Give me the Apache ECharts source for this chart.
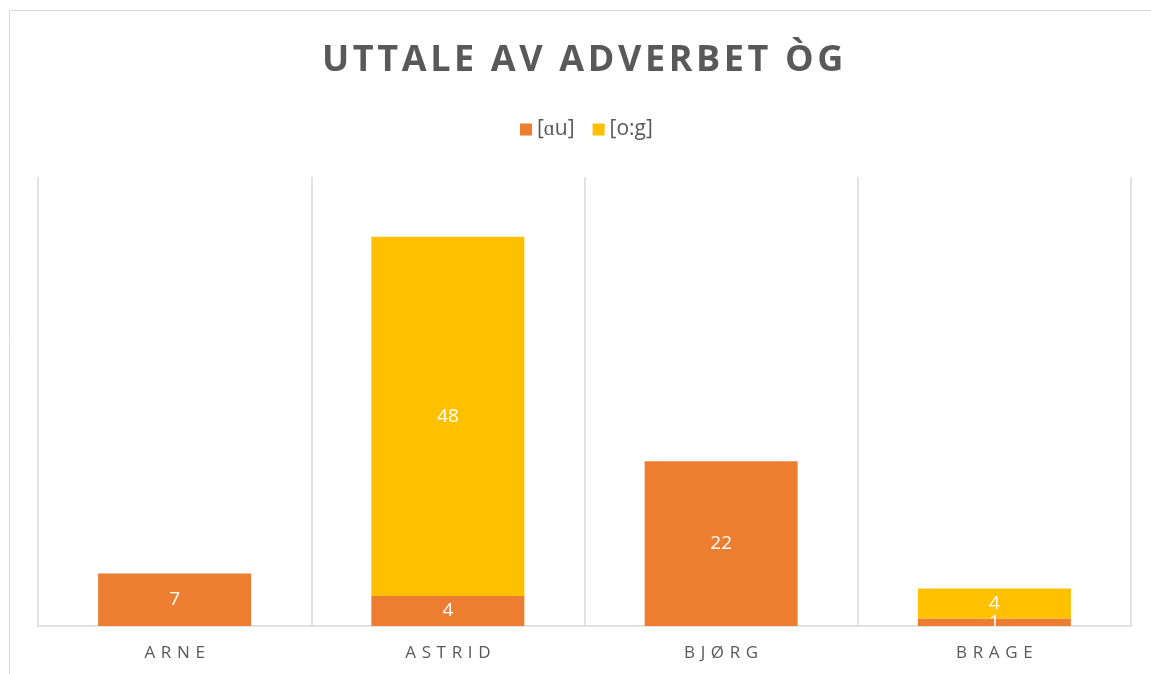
<!DOCTYPE html>
<html>
<head>
<meta charset="utf-8">
<script src="https://cdn.jsdelivr.net/npm/echarts@6/dist/echarts.min.js"></script>
<style>
  html, body { margin: 0; padding: 0; background: #fff; }
  #chart { width: 1151px; height: 674px; }
</style>
</head>
<body>
<div id="chart"></div>
<script>
const categories = ['ARNE', 'ASTRID', 'BJØRG', 'BRAGE'];
const seriesNames = ['[ɑu]', '[o:g]'];
const auValues = [7, 4, 22, 1];
const ogValues = [null, 48, null, 4];

// spread letters out a bit, echarts has no letter-spacing
function spaced(s, sep) {
  return s.split('').join(sep);
}

const chart = echarts.init(document.getElementById('chart'));
const grey = '#595959';
const labelStyle = { show: true, color: '#fff', fontSize: 19, fontFamily: 'Open Sans' };

chart.setOption({
  animation: false,
  graphic: [{
    type: 'rect',
    shape: { x: 9.5, y: 10.5, width: 1160, height: 700 },
    style: { fill: 'none', stroke: '#d9d9d9', lineWidth: 1 }
  }],
  title: {
    text: spaced('UTTALE AV ADVERBET ÒG', '\u200A'),
    left: 317,
    top: 38,
    textStyle: { color: grey, fontSize: 36, fontWeight: 'bold', fontFamily: 'Open Sans' }
  },
  legend: {
    data: seriesNames,
    top: 114,
    left: 515,
    itemWidth: 12,
    itemHeight: 12,
    itemGap: 18,
    icon: 'rect',
    textStyle: { color: grey, fontSize: 21, fontFamily: 'Open Sans' }
  },
  grid: { left: 38, right: 20, top: 177, bottom: 48 },
  xAxis: {
    type: 'category',
    data: categories,
    axisTick: { show: false },
    axisLine: { lineStyle: { color: '#d9d9d9', width: 1.5 } },
    splitLine: { show: true, lineStyle: { color: '#d9d9d9', width: 1.5 } },
    axisLabel: {
      color: grey,
      fontSize: 17,
      fontFamily: 'Open Sans',
      margin: 19,
      formatter: v => spaced(v, '\u2009\u2009')
    }
  },
  yAxis: {
    type: 'value',
    min: 0,
    max: 60,
    show: false,
    splitLine: { show: false }
  },
  series: [
    {
      name: seriesNames[0],
      type: 'bar',
      stack: 'total',
      data: auValues,
      barCategoryGap: '44%',
      itemStyle: { color: '#ED7D31' },
      label: labelStyle
    },
    {
      name: seriesNames[1],
      type: 'bar',
      stack: 'total',
      data: ogValues,
      itemStyle: { color: '#FFC000' },
      label: labelStyle
    }
  ]
});
</script>
</body>
</html>
